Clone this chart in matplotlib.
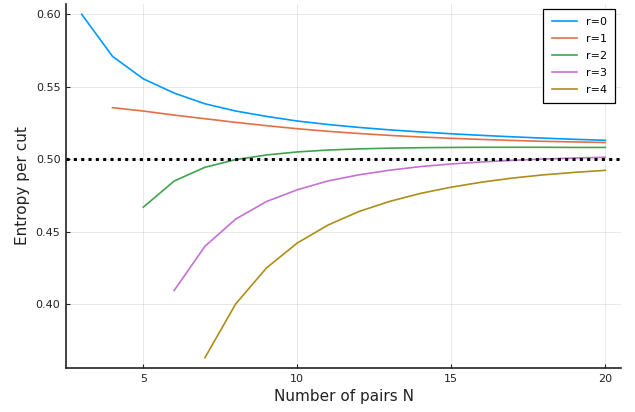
import matplotlib
matplotlib.use("Agg")
import matplotlib.pyplot as plt
import numpy as np

N_r0 = list(range(3, 21))
E_r0 = [0.600, 0.571, 0.5555, 0.5457, 0.5383, 0.5333, 0.5296, 0.5264, 0.5240, 0.5220,
        0.5203, 0.5189, 0.5176, 0.5165, 0.5155, 0.5146, 0.5138, 0.5131]
N_r1 = list(range(4, 21))
E_r1 = [0.5356, 0.5333, 0.5305, 0.5280, 0.5255, 0.5232, 0.5211, 0.5193, 0.5178, 0.5165,
        0.5154, 0.5145, 0.5137, 0.5130, 0.5124, 0.5120, 0.5116]
N_r2 = list(range(5, 21))
E_r2 = [0.4670, 0.4850, 0.4945, 0.4998, 0.5030, 0.5051, 0.5064, 0.5072, 0.5077, 0.5080,
        0.5082, 0.5083, 0.5083, 0.5083, 0.5082, 0.5082]
N_r3 = list(range(6, 21))
E_r3 = [0.4095, 0.4400, 0.4588, 0.4709, 0.4790, 0.4851, 0.4893, 0.4925, 0.4950, 0.4968,
        0.4982, 0.4993, 0.5002, 0.5009, 0.5014]
N_r4 = list(range(7, 21))
E_r4 = [0.3632, 0.4003, 0.4251, 0.4423, 0.4547, 0.4640, 0.4710, 0.4765, 0.4808, 0.4843,
        0.4871, 0.4893, 0.4910, 0.4924]

series = [("r=0", N_r0, E_r0), ("r=1", N_r1, E_r1), ("r=2", N_r2, E_r2),
          ("r=3", N_r3, E_r3), ("r=4", N_r4, E_r4)]
colors = ["#009AFA", "#E36F47", "#3EA44E", "#C371D2", "#AC8E18"]
hline_value = 0.5

xticks = [5, 10, 15, 20]
yticks = [0.40, 0.45, 0.50, 0.55, 0.60]

fig = plt.figure(figsize=(6.35, 4.12), dpi=100)
ax = fig.add_axes([66/635, 1-368/412, (621-66)/635, (368-4)/412])

for (lab, xs, ys), c in zip(series, colors):
    ax.plot(xs, ys, color=c, lw=1.2, label=lab)

allx = np.concatenate([s[1] for s in series]).astype(float)
ally = np.concatenate([s[2] for s in series])
xr = allx.max() - allx.min()
yr = ally.max() - ally.min()
xlim = (allx.min() - 0.03*xr, allx.max() + 0.03*xr)
ylim = (ally.min() - 0.03*yr, ally.max() + 0.03*yr)
ax.axhline(hline_value, color="black", lw=2.2, ls=(0, (1, 1.4)), zorder=3)
ax.set_xlim(*xlim)
ax.set_ylim(*ylim)

ax.set_xticks(xticks)
ax.set_yticks(yticks)
ax.set_yticklabels([f"{v:.2f}" for v in yticks])
ax.grid(True, color="#000000", alpha=0.1, lw=0.6)
ax.set_axisbelow(True)
for s in ["top", "right"]:
    ax.spines[s].set_visible(False)
for s in ["left", "bottom"]:
    ax.spines[s].set_color("#222222")
    ax.spines[s].set_linewidth(1.2)
ax.tick_params(direction="in", length=3, width=0.8, labelsize=8, colors="#222222",
               labelcolor="#222222", pad=4)
ax.set_xlabel("Number of pairs N", fontsize=11, color="#222222")
ax.set_ylabel("Entropy per cut", fontsize=11, color="#222222")

leg = ax.legend(loc="upper right", fontsize=8, fancybox=False, framealpha=1,
                edgecolor="black", handlelength=2.3, borderpad=0.75, labelspacing=0.62,
                bbox_to_anchor=(1.0, 1.002))
leg.get_frame().set_linewidth(0.9)

fig.savefig("out.png", dpi=100)
